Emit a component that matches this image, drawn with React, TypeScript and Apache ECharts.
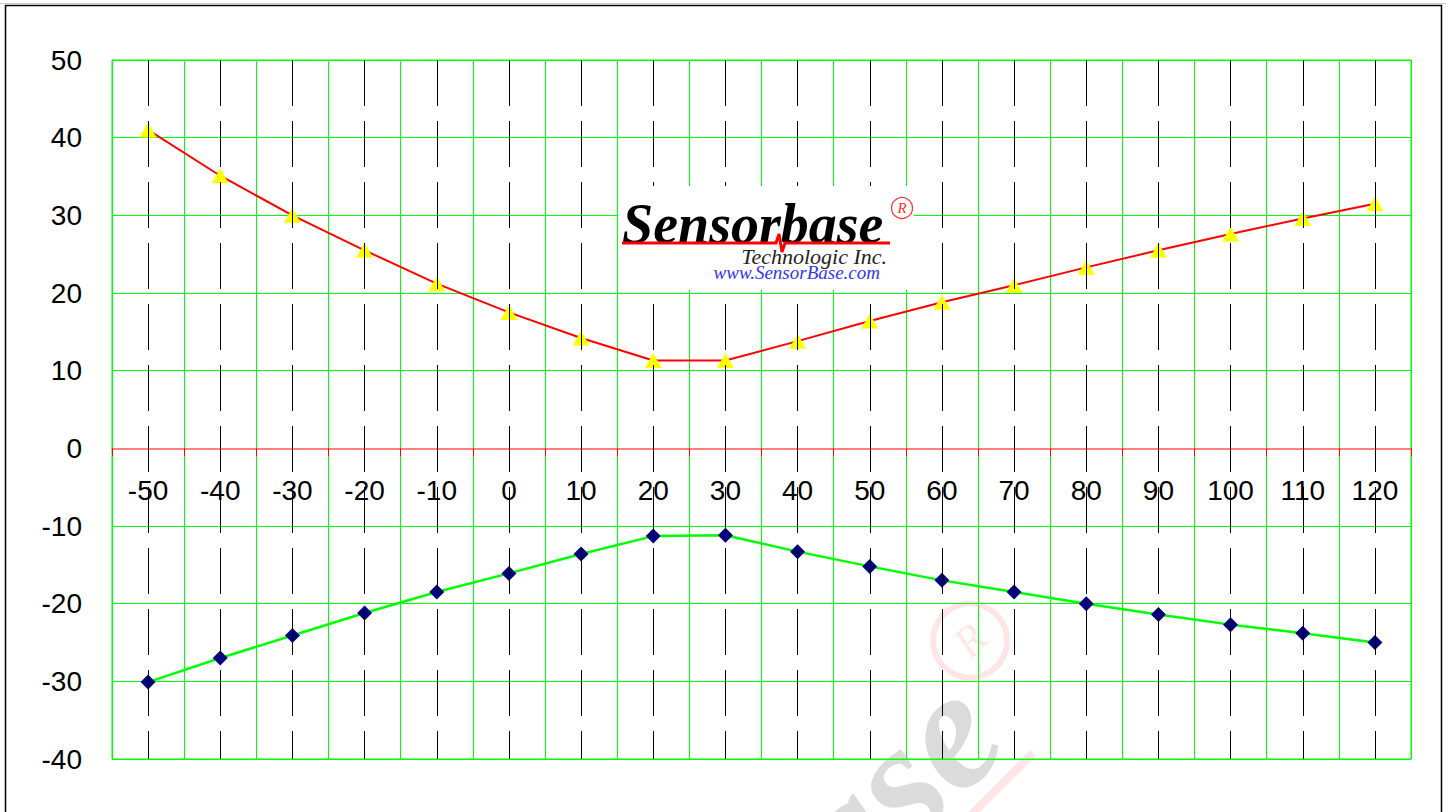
import React, { useEffect, useRef } from "react";
import * as echarts from "echarts";

const categories = ["-50", "-40", "-30", "-20", "-10", "0", "10", "20", "30", "40", "50", "60", "70", "80", "90", "100", "110", "120"];
const upperValues = [41.0, 35.1, 30.0, 25.5, 21.2, 17.5, 14.2, 11.3, 11.3, 13.8, 16.4, 18.8, 21.0, 23.3, 25.5, 27.6, 29.6, 31.5];
const lowerValues = [-30.1, -27.0, -24.1, -21.2, -18.5, -16.1, -13.6, -11.3, -11.2, -13.3, -15.2, -17.0, -18.5, -20.0, -21.4, -22.7, -23.8, -25.0];
const yMin = -40;
const yMax = 50;
const yStep = 10;

const SANS = "'Liberation Sans', Arial, sans-serif";
const SERIF = "'Liberation Serif', 'Times New Roman', serif";

const GRID_TOP = 60;
const GRID_BOTTOM = 53;
const CHART_H = 812;

export default function App() {
  const ref = useRef<HTMLDivElement>(null);

  useEffect(() => {
    if (!ref.current) return;
    const chart = echarts.init(ref.current, undefined, { renderer: "svg" });

    // pixel distance from the grid's bottom edge up to the y = 0 line
    const plotH = CHART_H - GRID_TOP - GRID_BOTTOM;
    const zeroOffset = (plotH * (0 - yMin)) / (yMax - yMin);

    const option: any = {
      animation: false,
      backgroundColor: "#ffffff",
      grid: {
        left: 112,
        right: 40,
        top: GRID_TOP,
        bottom: GRID_BOTTOM,
        show: true,
        borderColor: "#00ff00",
        borderWidth: 1,
        containLabel: false,
      },
      xAxis: {
        type: "category",
        data: categories,
        boundaryGap: true,
        position: "bottom",
        offset: -zeroOffset,
        z: 2,
        axisLine: { onZero: false, lineStyle: { color: "#ff7f7f", width: 2 } },
        axisTick: { show: true, length: 8, lineStyle: { color: "#ff0000", width: 1 } },
        axisLabel: { interval: 0, fontSize: 28, color: "#000", fontFamily: SANS, margin: 28 },
        splitLine: { show: true, interval: 0, lineStyle: { color: "#00ff00", width: 1 } },
      },
      yAxis: {
        type: "value",
        min: yMin,
        max: yMax,
        interval: yStep,
        z: 0,
        axisLine: { show: true, lineStyle: { color: "#00ff00", width: 1 } },
        axisTick: { show: true, inside: true, length: 8, lineStyle: { color: "#00ff00" } },
        axisLabel: { fontSize: 28, color: "#000", fontFamily: SANS, margin: 30 },
        splitLine: { show: true, lineStyle: { color: "#00ff00", width: 1 } },
      },
      series: [
        {
          type: "line",
          data: [],
          z: 1,
          silent: true,
          markLine: {
            silent: true,
            symbol: ["none", "none"],
            label: { show: false },
            lineStyle: { color: "#000", width: 1, type: [46, 15] },
            emphasis: { disabled: true },
            data: categories.map((c) => [
              { xAxis: c, yAxis: yMax },
              { xAxis: c, yAxis: yMin },
            ]),
          },
        },
        {
          type: "line",
          data: upperValues,
          z: 3,
          symbol: "triangle",
          symbolSize: [17, 15],
          lineStyle: { color: "#ff0000", width: 2 },
          itemStyle: { color: "#ffff00", borderWidth: 0 },
        },
        {
          type: "line",
          data: lowerValues,
          z: 3,
          symbol: "diamond",
          symbolSize: 15,
          lineStyle: { color: "#00ff00", width: 2.5 },
          itemStyle: { color: "#000080", borderWidth: 0 },
        },
      ],
      graphic: [
        // watermark
        {
          type: "group",
          x: 1033,
          y: 753,
          rotation: Math.PI / 4,
          silent: true,
          z: -1,
          children: [
            {
              type: "line",
              z: -1,
              shape: { x1: -900, y1: 0, x2: 0, y2: 0 },
              style: { stroke: "#ff0000", lineWidth: 8, opacity: 0.1 },
            },
            {
              type: "text",
              z: -1,
              x: -10,
              y: -76,
              style: {
                text: "Sensorbase",
                font: `italic bold 170px ${SERIF}`,
                fill: "#000",
                opacity: 0.14,
                textAlign: "right",
                textVerticalAlign: "middle",
              },
            },
            {
              type: "circle",
              z: -1,
              shape: { cx: 35, cy: -124, r: 37 },
              style: { fill: "none", stroke: "#ff0000", lineWidth: 6, opacity: 0.1 },
            },
            {
              type: "text",
              z: -1,
              x: 35,
              y: -124,
              style: {
                text: "R",
                font: `italic 44px ${SERIF}`,
                fill: "#ff0000",
                opacity: 0.1,
                textAlign: "center",
                textVerticalAlign: "middle",
              },
            },
          ],
        },
        // outer frame
        {
          type: "line",
          z: 50,
          silent: true,
          shape: { x1: 0, y1: 3.5, x2: 1446, y2: 3.5 },
          style: { stroke: "#cfcfcf", lineWidth: 1 },
        },
        {
          type: "rect",
          z: 50,
          silent: true,
          shape: { x: 5.5, y: 5.5, width: 1436, height: 830 },
          style: { fill: "none", stroke: "#000", lineWidth: 1.5 },
        },
        // logo
        {
          type: "rect",
          z: 100,
          silent: true,
          shape: { x: 618, y: 186, width: 296, height: 104 },
          style: { fill: "#ffffff" },
        },
        {
          type: "text",
          z: 101,
          x: 622,
          y: 223.5,
          style: {
            text: "Sensorbase",
            font: `italic bold 56px ${SERIF}`,
            fill: "#000",
            textAlign: "left",
            textVerticalAlign: "middle",
          },
        },
        {
          type: "polyline",
          z: 101,
          shape: {
            points: [
              [622, 243],
              [776, 243],
              [779, 234],
              [782, 252],
              [785, 243],
              [890, 243],
            ],
          },
          style: { stroke: "#ff0000", lineWidth: 3, fill: "none" },
        },
        {
          type: "circle",
          z: 101,
          shape: { cx: 902, cy: 208, r: 10.5 },
          style: { fill: "none", stroke: "#ff3030", lineWidth: 1.2 },
        },
        {
          type: "text",
          z: 101,
          x: 902,
          y: 208,
          style: {
            text: "R",
            font: `italic 15px ${SERIF}`,
            fill: "#ff3030",
            textAlign: "center",
            textVerticalAlign: "middle",
          },
        },
        {
          type: "text",
          z: 101,
          x: 887,
          y: 256.5,
          style: {
            text: "Technologic Inc.",
            font: `italic 22px ${SERIF}`,
            fill: "#222",
            textAlign: "right",
            textVerticalAlign: "middle",
          },
        },
        {
          type: "text",
          z: 101,
          x: 880,
          y: 272.5,
          style: {
            text: "www.SensorBase.com",
            font: `italic 19px ${SERIF}`,
            fill: "#3535f0",
            textAlign: "right",
            textVerticalAlign: "middle",
          },
        },
      ],
    };

    chart.setOption(option);
    return () => {
      chart.dispose();
    };
  }, []);

  return (
    <div
      ref={ref}
      style={{ position: "absolute", left: 0, top: 0, width: 1451, height: 812, background: "#fff" }}
    />
  );
}
